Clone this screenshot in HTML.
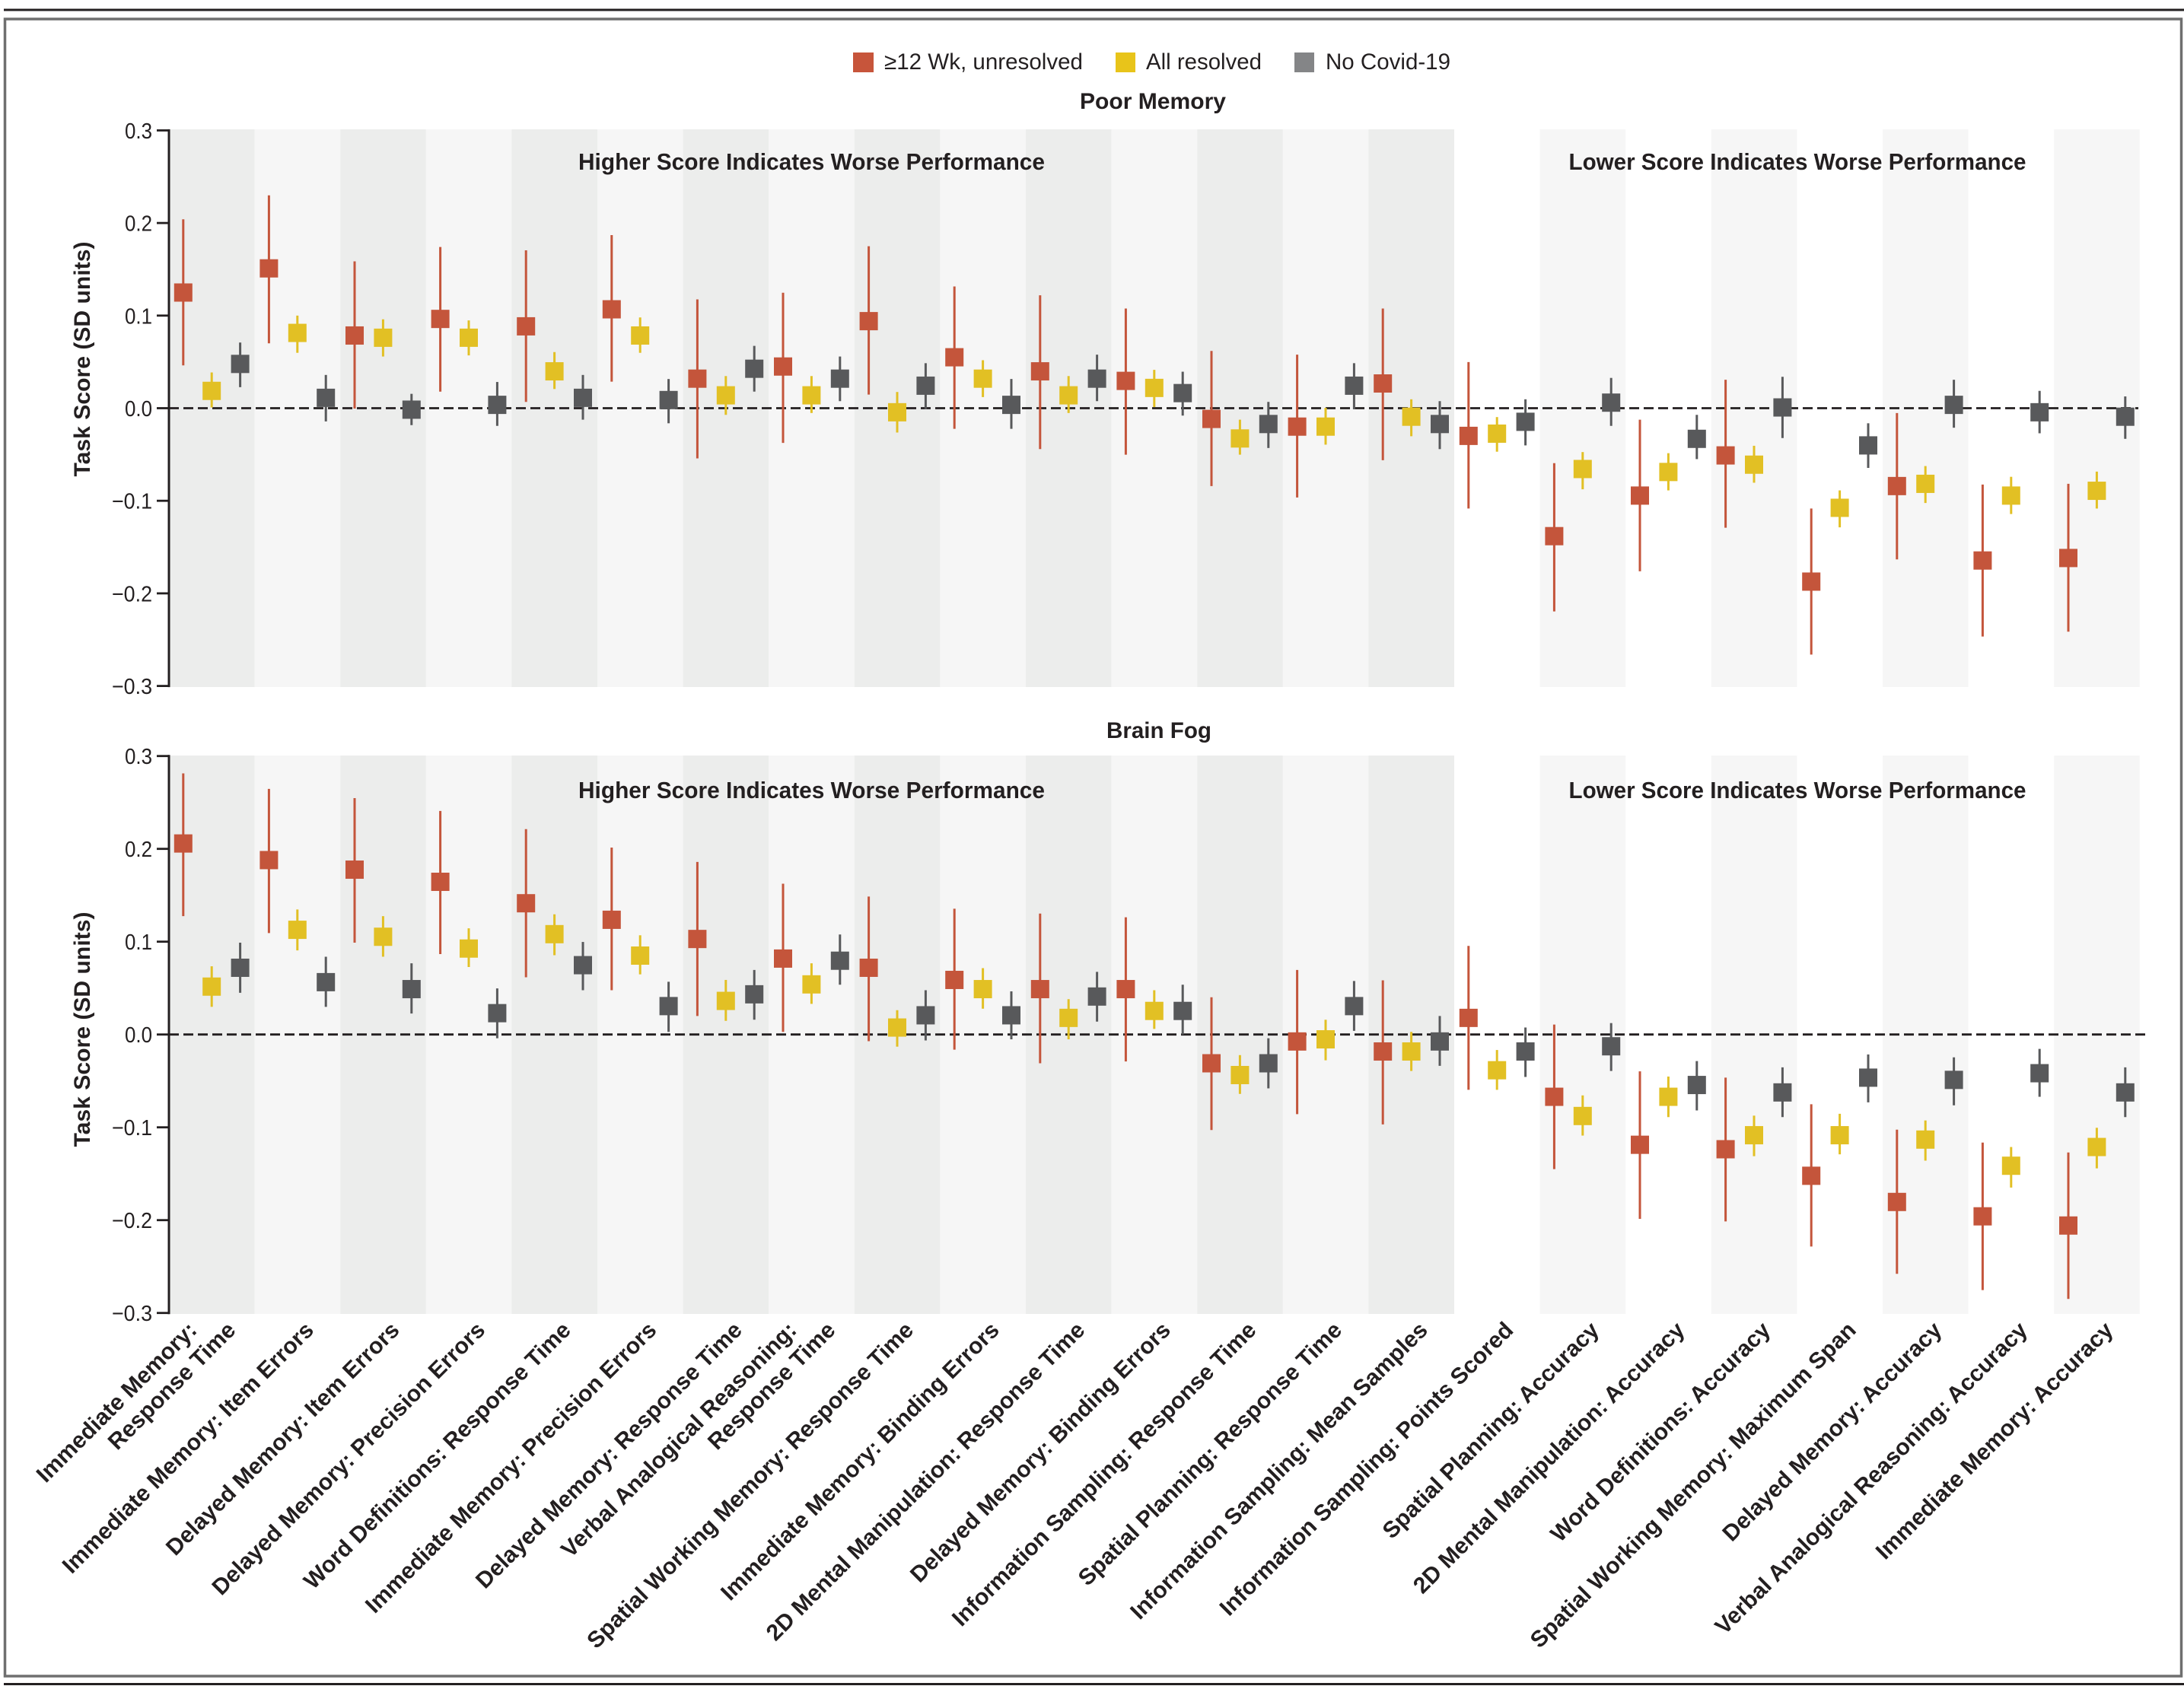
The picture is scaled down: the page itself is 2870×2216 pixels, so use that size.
<!DOCTYPE html>
<html lang="en">
<head>
<meta charset="utf-8">
<title>Task Scores by Covid-19 Status</title>
<style>
html,body{margin:0;padding:0;background:#fff;}
svg{display:block;font-family:"Liberation Sans",sans-serif;fill:#231f20;}
</style>
</head>
<body>
<svg id="chart" xmlns="http://www.w3.org/2000/svg" width="2870" height="2216" viewBox="0 0 2870 2216">
  <rect x="0" y="0" width="2870" height="2216" fill="#fff"/>
  <rect x="5" y="11.5" width="2865" height="3" fill="#231f20"/>
  <rect x="5" y="2212" width="2865" height="3" fill="#231f20"/>
  <rect x="6.5" y="25" width="2860" height="2178" fill="none" stroke="#6f6f6f" stroke-width="3.5"/>
  <g>
    <g>
      <rect x="1121" y="69" width="27" height="26" fill="#c7553b"/>
      <text x="1162" y="91" font-size="30" textLength="261" lengthAdjust="spacingAndGlyphs">≥12 Wk, unresolved</text>
    </g>
    <g>
      <rect x="1466" y="69" width="26" height="26" fill="#e8c41a"/>
      <text x="1506" y="91" font-size="30" textLength="152" lengthAdjust="spacingAndGlyphs">All resolved</text>
    </g>
    <g>
      <rect x="1701" y="69" width="26" height="26" fill="#848587"/>
      <text x="1742" y="91" font-size="30" textLength="164" lengthAdjust="spacingAndGlyphs">No Covid-19</text>
    </g>
  </g>
  <text x="1419" y="143" font-size="30" font-weight="700" textLength="192" lengthAdjust="spacingAndGlyphs">Poor Memory</text>
  <text x="1454" y="970" font-size="30" font-weight="700" textLength="138" lengthAdjust="spacingAndGlyphs">Brain Fog</text>
  <g id="plots"></g>
</svg>
<script>
const categories = [
  ["Immediate Memory:", "Response Time"],
  ["Immediate Memory: Item Errors"],
  ["Delayed Memory: Item Errors"],
  ["Delayed Memory: Precision Errors"],
  ["Word Definitions: Response Time"],
  ["Immediate Memory: Precision Errors"],
  ["Delayed Memory: Response Time"],
  ["Verbal Analogical Reasoning:", "Response Time"],
  ["Spatial Working Memory: Response Time"],
  ["Immediate Memory: Binding Errors"],
  ["2D Mental Manipulation: Response Time"],
  ["Delayed Memory: Binding Errors"],
  ["Information Sampling: Response Time"],
  ["Spatial Planning: Response Time"],
  ["Information Sampling: Mean Samples"],
  ["Information Sampling: Points Scored"],
  ["Spatial Planning: Accuracy"],
  ["2D Mental Manipulation: Accuracy"],
  ["Word Definitions: Accuracy"],
  ["Spatial Working Memory: Maximum Span"],
  ["Delayed Memory: Accuracy"],
  ["Verbal Analogical Reasoning: Accuracy"],
  ["Immediate Memory: Accuracy"]
];
const tickValues = [0.3, 0.2, 0.1, 0, -0.1, -0.2, -0.3];
const tickLabels = ["0.3", "0.2", "0.1", "0.0", "\u22120.1", "\u22120.2", "\u22120.3"];
const panelTitles = ["Poor Memory", "Brain Fog"];
const seriesNames = ["unresolved", "all-resolved", "no-covid"];

const poorUnresolved = [0.1249,0.1510,0.0785,0.0964,0.0884,0.1068,0.0319,0.0450,0.0940,0.0550,0.0398,0.0295,-0.0116,-0.0199,0.0267,-0.0299,-0.1382,-0.0944,-0.0510,-0.1873,-0.0841,-0.1645,-0.1618];
const poorUnresolvedHigh = [0.2040,0.2299,0.1586,0.1741,0.1705,0.1869,0.1175,0.1247,0.1749,0.1315,0.1219,0.1076,0.0618,0.0578,0.1076,0.0498,-0.0594,-0.0124,0.0307,-0.1084,-0.0052,-0.0825,-0.0817];
const poorUnresolvedLow = [0.0462,0.0701,-0.0004,0.0179,0.0068,0.0287,-0.0542,-0.0375,0.0147,-0.0223,-0.0442,-0.0502,-0.0841,-0.0964,-0.0562,-0.1084,-0.2195,-0.1761,-0.1291,-0.2661,-0.1633,-0.2466,-0.2414];
const poorResolved = [0.0187,0.0813,0.0761,0.0761,0.0398,0.0785,0.0139,0.0139,-0.0044,0.0319,0.0139,0.0219,-0.0327,-0.0199,-0.0092,-0.0275,-0.0657,-0.0689,-0.0610,-0.1076,-0.0817,-0.0944,-0.0892];
const poorResolvedHigh = [0.0386,0.1000,0.0960,0.0948,0.0606,0.0980,0.0347,0.0347,0.0175,0.0518,0.0347,0.0414,-0.0124,0.0004,0.0096,-0.0096,-0.0474,-0.0486,-0.0406,-0.0888,-0.0625,-0.0741,-0.0685];
const poorResolvedLow = [0.0008,0.0598,0.0558,0.0570,0.0207,0.0598,-0.0072,-0.0052,-0.0263,0.0120,-0.0052,0.0012,-0.0502,-0.0394,-0.0303,-0.0470,-0.0876,-0.0888,-0.0805,-0.1287,-0.1024,-0.1143,-0.1084];
const poorNoCovid = [0.0478,0.0112,-0.0016,0.0036,0.0112,0.0088,0.0426,0.0319,0.0243,0.0036,0.0319,0.0163,-0.0171,0.0243,-0.0171,-0.0147,0.0060,-0.0331,0.0008,-0.0402,0.0036,-0.0044,-0.0092];
const poorNoCovidHigh = [0.0709,0.0359,0.0155,0.0283,0.0359,0.0315,0.0673,0.0558,0.0486,0.0315,0.0578,0.0394,0.0068,0.0486,0.0076,0.0096,0.0327,-0.0072,0.0339,-0.0163,0.0307,0.0187,0.0127];
const poorNoCovidLow = [0.0227,-0.0143,-0.0183,-0.0191,-0.0124,-0.0163,0.0179,0.0076,-0.0012,-0.0223,0.0076,-0.0080,-0.0430,-0.0012,-0.0442,-0.0402,-0.0191,-0.0550,-0.0323,-0.0645,-0.0211,-0.0271,-0.0331];

const fogUnresolved = [0.2058,0.1879,0.1776,0.1645,0.1414,0.1236,0.1029,0.0818,0.0719,0.0588,0.0489,0.0489,-0.0310,-0.0075,-0.0183,0.0179,-0.0671,-0.1188,-0.1236,-0.1522,-0.1804,-0.1959,-0.2058];
const fogUnresolvedHigh = [0.2813,0.2646,0.2547,0.2408,0.2213,0.2014,0.1859,0.1625,0.1486,0.1355,0.1303,0.1263,0.0401,0.0695,0.0584,0.0954,0.0107,-0.0397,-0.0465,-0.0751,-0.1025,-0.1164,-0.1271];
const fogUnresolvedLow = [0.1275,0.1093,0.0989,0.0866,0.0616,0.0477,0.0199,0.0028,-0.0072,-0.0163,-0.0310,-0.0290,-0.1029,-0.0858,-0.0969,-0.0596,-0.1450,-0.1986,-0.2014,-0.2284,-0.2578,-0.2753,-0.2849];
const fogResolved = [0.0516,0.1128,0.1053,0.0926,0.1081,0.0850,0.0362,0.0540,0.0075,0.0489,0.0179,0.0254,-0.0437,-0.0052,-0.0183,-0.0385,-0.0878,-0.0671,-0.1085,-0.1085,-0.1132,-0.1414,-0.1212];
const fogResolvedHigh = [0.0735,0.1347,0.1275,0.1144,0.1295,0.1069,0.0588,0.0767,0.0262,0.0715,0.0381,0.0477,-0.0222,0.0159,0.0028,-0.0167,-0.0656,-0.0453,-0.0874,-0.0854,-0.0926,-0.1212,-0.1005];
const fogResolvedLow = [0.0298,0.0906,0.0838,0.0727,0.0854,0.0648,0.0147,0.0330,-0.0131,0.0278,-0.0052,0.0060,-0.0640,-0.0278,-0.0393,-0.0596,-0.1089,-0.0890,-0.1311,-0.1291,-0.1359,-0.1649,-0.1442];
const fogNoCovid = [0.0719,0.0564,0.0489,0.0230,0.0747,0.0306,0.0433,0.0795,0.0207,0.0207,0.0409,0.0254,-0.0310,0.0306,-0.0075,-0.0183,-0.0127,-0.0544,-0.0624,-0.0465,-0.0489,-0.0417,-0.0624];
const fogNoCovidHigh = [0.0989,0.0838,0.0767,0.0497,0.0997,0.0568,0.0695,0.1077,0.0477,0.0465,0.0675,0.0536,-0.0040,0.0576,0.0199,0.0075,0.0123,-0.0286,-0.0354,-0.0215,-0.0246,-0.0155,-0.0354];
const fogNoCovidLow = [0.0449,0.0298,0.0226,-0.0040,0.0477,0.0028,0.0159,0.0536,-0.0064,-0.0052,0.0139,0.0000,-0.0580,0.0040,-0.0338,-0.0457,-0.0393,-0.0818,-0.0890,-0.0731,-0.0763,-0.0671,-0.0890];

const NS = 'http://www.w3.org/2000/svg';
const plots = document.getElementById('plots');
const AXIS_LEFT = 222;
const BAND = 112.6;
const UNIT_OFFSET = [18.8, 56.2, 93.6];
const SERIES_COLOR = ['#c4553b', '#e2c024', '#58595b'];
const BOX = 24;

function make(parent, tag, attrs, text) {
  const el = document.createElementNS(NS, tag);
  Object.keys(attrs).forEach(function (k) { el.setAttribute(k, attrs[k]); });
  if (text !== undefined) el.textContent = text;
  parent.appendChild(el);
  return el;
}
function xBand(i) { return AXIS_LEFT + i * BAND; }
function slug(s) { return s.toLowerCase().replace(/[^a-z0-9]+/g, '-').replace(/^-|-$/g, ''); }

function drawPanel(index, geom, series) {
  const yScale = function (v) { return geom.zero - v * geom.unit; };
  const key = slug(panelTitles[index]);

  const group = make(plots, 'g', {});
  
  

  categories.forEach(function (c, i) {
    let fill = null;
    if (i < 15) fill = i % 2 === 0 ? '#ecedec' : '#f6f6f6';
    else if (i % 2 === 0) fill = '#f6f6f6';
    if (!fill) return;
    const band = make(group, 'rect', { x: xBand(i), y: geom.bandTop, width: BAND, height: geom.bandBottom - geom.bandTop, fill: fill });
    
    
  });

  const zeroLine = make(group, 'line', { x1: AXIS_LEFT, x2: geom.lineEnd, y1: yScale(0), y2: yScale(0), stroke: '#231f20', 'stroke-width': 2.8, 'stroke-dasharray': '13 6' });
  
  

  const axis = make(group, 'line', { x1: AXIS_LEFT, x2: AXIS_LEFT, y1: yScale(0.3) - 1.5, y2: yScale(-0.3) + 1.5, stroke: '#231f20', 'stroke-width': 3 });
  
  

  tickValues.forEach(function (v, i) {
    const tick = make(group, 'line', { x1: 206, x2: AXIS_LEFT, y1: yScale(v), y2: yScale(v), stroke: '#231f20', 'stroke-width': 2.8 });
    
    
    const label = make(group, 'text', { x: 200, y: yScale(v) + 10.5, 'font-size': 29, 'text-anchor': 'end', textLength: v < 0 ? 53 : 36, lengthAdjust: 'spacingAndGlyphs' }, tickLabels[i]);
    
    
  });

  const yTitle = make(group, 'text', { transform: 'translate(118 ' + geom.titleY + ') rotate(-90)', 'font-size': 30, 'font-weight': 700, 'text-anchor': 'middle', textLength: 309, lengthAdjust: 'spacingAndGlyphs' }, 'Task Score (SD units)');
  
  

  const higher = make(group, 'text', { x: 760, y: geom.noteY, 'font-size': 31, 'font-weight': 700, textLength: 613, lengthAdjust: 'spacingAndGlyphs' }, 'Higher Score Indicates Worse Performance');
  
  
  const lower = make(group, 'text', { x: 2061.5, y: geom.noteY, 'font-size': 31, 'font-weight': 700, textLength: 601, lengthAdjust: 'spacingAndGlyphs' }, 'Lower Score Indicates Worse Performance');
  
  

  series.forEach(function (s, si) {
    s.value.forEach(function (v, i) {
      const cx = xBand(i) + UNIT_OFFSET[si];
      const whisker = make(group, 'line', { x1: cx, x2: cx, y1: yScale(s.high[i]), y2: yScale(s.low[i]), stroke: SERIES_COLOR[si], 'stroke-width': 3 });
      
      
      const box = make(group, 'rect', { x: cx - BOX / 2, y: yScale(v) - BOX / 2, width: BOX, height: BOX, fill: SERIES_COLOR[si] });
      
      
    });
  });
}

function drawCategoryLabels() {
  const group = make(plots, 'g', {});
  
  
  categories.forEach(function (lines, i) {
    const cx = xBand(i) + BAND / 2;
    const endX = cx + 23;
    const endY = 1750;
    lines.forEach(function (line, li) {
      let dx = 0;
      if (lines.length === 2) {
        dx = li === 0 ? -41 : 10;
      }
      const t = make(group, 'text', { transform: 'translate(' + (endX + dx) + ' ' + endY + ') rotate(-45) scale(1.005 1)', 'font-size': 30, 'font-weight': 700, 'text-anchor': 'end' }, line);
      
      
    });
  });
}

drawPanel(0, { zero: 536.5, unit: 1217, bandTop: 170, bandBottom: 903, lineEnd: 2810, noteY: 223, titleY: 472 }, [
  { value: poorUnresolved, high: poorUnresolvedHigh, low: poorUnresolvedLow },
  { value: poorResolved, high: poorResolvedHigh, low: poorResolvedLow },
  { value: poorNoCovid, high: poorNoCovidHigh, low: poorNoCovidLow }
]);
drawPanel(1, { zero: 1359.7, unit: 1220, bandTop: 993, bandBottom: 1727, lineEnd: 2822, noteY: 1049, titleY: 1353 }, [
  { value: fogUnresolved, high: fogUnresolvedHigh, low: fogUnresolvedLow },
  { value: fogResolved, high: fogResolvedHigh, low: fogResolvedLow },
  { value: fogNoCovid, high: fogNoCovidHigh, low: fogNoCovidLow }
]);
drawCategoryLabels();
</script>
</body>
</html>
